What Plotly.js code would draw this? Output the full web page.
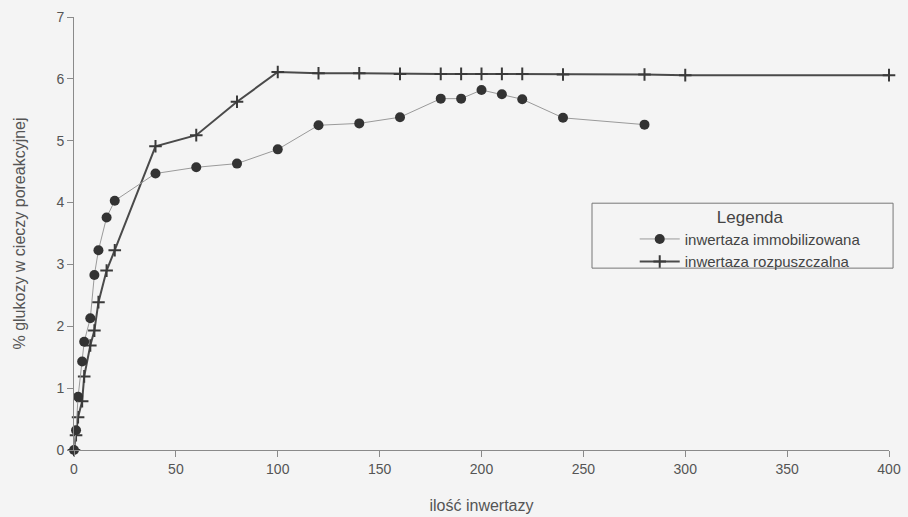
<!DOCTYPE html>
<html>
<head>
<meta charset="utf-8">
<script src="https://cdn.plot.ly/plotly-3.0.1.min.js"></script>
<style>
html,body{margin:0;padding:0;background:#f4f4f4;}
#chart{width:908px;height:517px;}
</style>
</head>
<body>
<div id="chart"></div>
<script>
// immobilised invertase (circles)
const immobX = [0, 1, 2, 4, 5, 8, 10, 12, 16, 20, 40, 60, 80, 100, 120, 140, 160, 180, 190, 200, 210, 220, 240, 280];
const immobY = [0, 0.32, 0.86, 1.43, 1.75, 2.13, 2.83, 3.23, 3.76, 4.03, 4.47, 4.57, 4.63, 4.86, 5.25, 5.28, 5.38, 5.68, 5.68, 5.82, 5.75, 5.67, 5.37, 5.26];
// soluble invertase (crosses)
const solX = [0, 1, 2, 4, 5, 8, 10, 12, 16, 20, 40, 60, 80, 100, 120, 140, 160, 180, 190, 200, 210, 220, 240, 280, 300, 400];
const solY = [0, 0.24, 0.53, 0.79, 1.19, 1.69, 1.93, 2.39, 2.90, 3.23, 4.91, 5.09, 5.63, 6.11, 6.09, 6.09, 6.08, 6.08, 6.08, 6.08, 6.08, 6.08, 6.07, 6.07, 6.06, 6.06];

const seriesNames = ["inwertaza immobilizowana", "inwertaza rozpuszczalna"];
const xTicks = [0, 50, 100, 150, 200, 250, 300, 350, 400];
const yTicks = [0, 1, 2, 3, 4, 5, 6, 7];

const font = "Liberation Sans, Arial, sans-serif";

const traces = [
  {
    x: solX, y: solY, name: seriesNames[1], type: "scatter", mode: "lines+markers",
    line: {color: "#4a4a4a", width: 2},
    marker: {symbol: "cross-thin", size: 9, line: {color: "#3a3a3a", width: 2}, color: "#3a3a3a"},
    cliponaxis: false, legendrank: 2
  },
  {
    x: immobX, y: immobY, name: seriesNames[0], type: "scatter", mode: "lines+markers",
    line: {color: "#9a9a9a", width: 1},
    marker: {symbol: "circle", size: 10, color: "#333333", line: {width: 0}},
    cliponaxis: false, legendrank: 1
  }
];

const layout = {
  width: 908, height: 517,
  paper_bgcolor: "#f4f4f4", plot_bgcolor: "#f4f4f4",
  margin: {l: 74, r: 19, t: 17, b: 67},
  font: {family: font, color: "#555", size: 14},
  showlegend: true,
  legend: {
    x: 0.688, y: 0.576, xanchor: "left", yanchor: "top",
    bgcolor: "rgba(0,0,0,0)", borderwidth: 0,
    font: {family: font, size: 15, color: "#444"},
    title: {text: "Legenda", side: "top center", font: {family: font, size: 17, color: "#444"}},
    itemwidth: 40, tracegroupgap: 0
  },
  shapes: [{
    type: "rect", xref: "paper", yref: "paper",
    x0: 0.6356, x1: 1.005, y0: 0.420, y1: 0.570,
    line: {color: "#777", width: 1}, fillcolor: "#f4f4f4", layer: "above"
  }],
  xaxis: {
    range: [0, 400], tickvals: xTicks, ticktext: xTicks.map(String),
    showgrid: false, zeroline: false, showline: true, linecolor: "#8a8a8a", linewidth: 1,
    ticks: "outside", ticklen: 6, tickcolor: "#8a8a8a",
    tickfont: {family: font, size: 14, color: "#555"},
    title: {text: "ilość inwertazy", font: {family: font, size: 16, color: "#555"}, standoff: 24}
  },
  yaxis: {
    range: [0, 7], tickvals: yTicks, ticktext: yTicks.map(String),
    showgrid: false, zeroline: false, showline: true, linecolor: "#8a8a8a", linewidth: 1,
    ticks: "outside", ticklen: 6, tickcolor: "#8a8a8a",
    tickfont: {family: font, size: 14, color: "#555"},
    title: {text: "% glukozy w cieczy poreakcyjnej", font: {family: font, size: 16, color: "#555"}, standoff: 26}
  }
};

Plotly.newPlot("chart", traces, layout, {displayModeBar: false, staticPlot: true});
</script>
</body>
</html>
